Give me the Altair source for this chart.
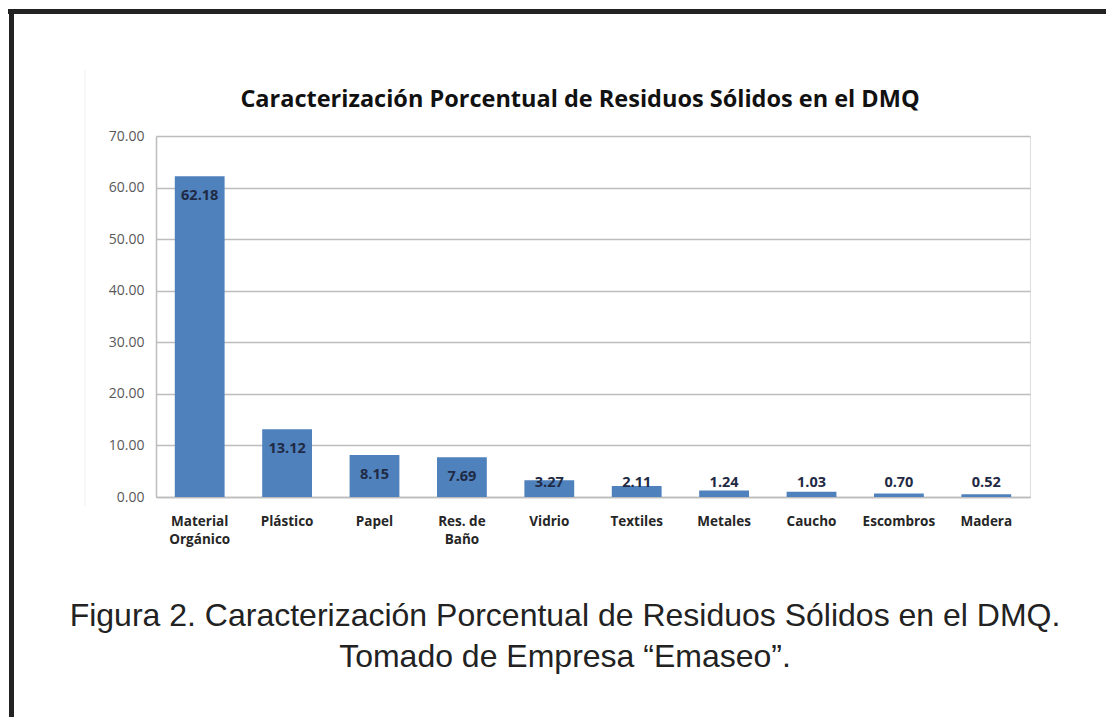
import altair as alt
import pandas as pd

categories = ["Material|Orgánico", "Plástico", "Papel", "Res. de|Baño", "Vidrio",
              "Textiles", "Metales", "Caucho", "Escombros", "Madera"]
values = [62.18, 13.12, 8.15, 7.69, 3.27, 2.11, 1.24, 1.03, 0.70, 0.52]
y_ticks = [0, 10, 20, 30, 40, 50, 60, 70]
title_text = "Caracterización Porcentual de Residuos Sólidos en el DMQ"
caption_lines = ["Figura 2. Caracterización Porcentual de Residuos Sólidos en el DMQ.",
                 "Tomado de Empresa “Emaseo”."]

df = pd.DataFrame({"cat": categories, "value": values})

W, H = 874, 361

x_enc = alt.X("cat:N", sort=categories, title=None,
              scale=alt.Scale(paddingInner=0.43, paddingOuter=0.215),
              axis=alt.Axis(labelExpr="split(datum.label, '|')", labelAngle=0,
                            labelFont="Open Sans", labelFontWeight="bold",
                            labelFontSize=13.5, labelColor="#262626",
                            labelPadding=17, labelLineHeight=18,
                            ticks=False, domainColor="#BDBDBD", domainWidth=1.5))
y_enc = alt.Y("value:Q", title=None,
              scale=alt.Scale(domain=[0, 70], nice=False),
              axis=alt.Axis(values=y_ticks, format=".2f", labelFont="Open Sans",
                            labelFontSize=14, labelColor="#595959", labelPadding=12,
                            ticks=False, domainColor="#BDBDBD", domainWidth=1.5,
                            gridColor="#BDBDBD", gridWidth=1.5))

bars = alt.Chart(df).mark_bar(color="#4F81BD").encode(x=x_enc, y=y_enc)

labels = alt.Chart(df).transform_calculate(
    label_y="max(datum.value - 3.9, 2.8)"
).mark_text(font="Open Sans", fontWeight="bold", fontSize=14.5, color="#1F2A44",
            baseline="middle").encode(
    x=alt.X("cat:N", sort=categories),
    y=alt.Y("label_y:Q"),
    text=alt.Text("value:Q", format=".2f"),
)


def text_layer(txt, x, y, **kw):
    return alt.Chart(pd.DataFrame({"t": [txt]})).mark_text(
        baseline="middle", align="center", **kw
    ).encode(x=alt.value(x), y=alt.value(y), text="t:N")


title = text_layer(title_text, 424, -36, font="Open Sans", fontSize=23.5,
                   fontWeight="bold", color="#111111")
cap1 = text_layer(caption_lines[0], 409, 480, font="Liberation Sans", fontSize=32,
                  color="#222222")
cap2 = text_layer(caption_lines[1], 409, 521, font="Liberation Sans", fontSize=32,
                  color="#222222")

one = pd.DataFrame({"a": [0]})
frame_top = alt.Chart(one).mark_rule(color="#222222", strokeWidth=5).encode(
    x=alt.value(-148), x2=alt.value(960), y=alt.value(-124.5))
frame_left = alt.Chart(one).mark_rule(color="#222222", strokeWidth=5).encode(
    x=alt.value(-144.5), y=alt.value(-127), y2=alt.value(600))
faint = alt.Chart(one).mark_rule(color="#EEEEEE", strokeWidth=1).encode(
    x=alt.value(-71), y=alt.value(-66), y2=alt.value(370))

chart = alt.layer(bars, labels, title, cap1, cap2, frame_top, frame_left, faint).properties(
    width=W, height=H,
    autosize=alt.AutoSizeParams(type="none"),
    padding={"left": 148, "top": 128, "right": 76, "bottom": 220},
).configure_view(stroke=None).configure(background="white")

chart.save("out.html", embed_options={"renderer": "svg", "actions": False})
